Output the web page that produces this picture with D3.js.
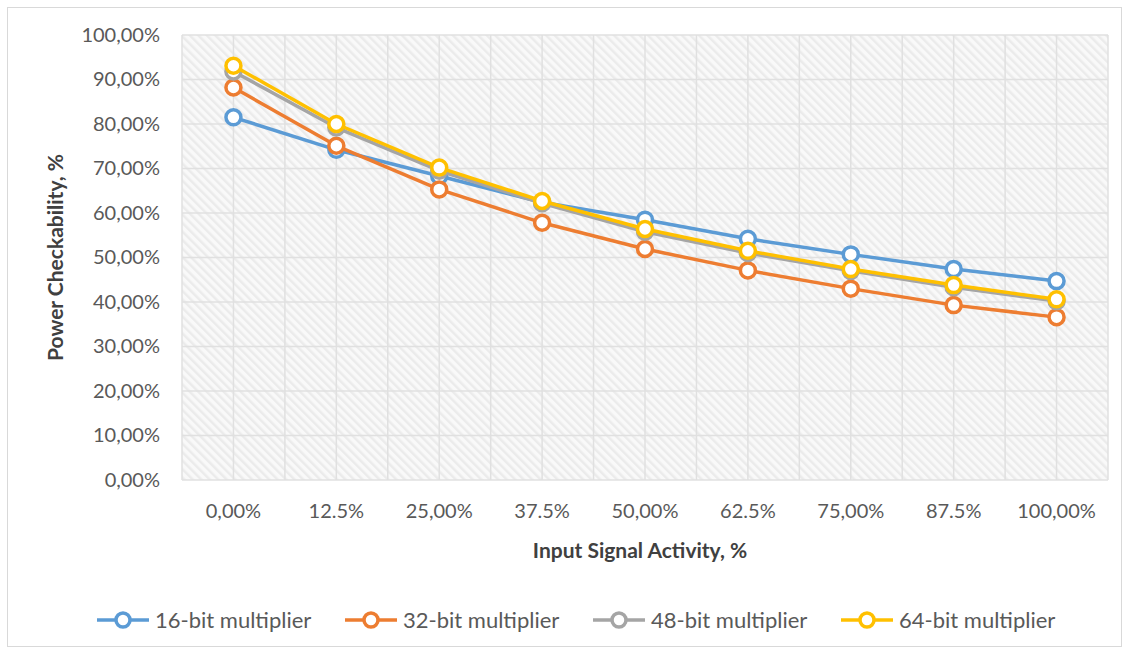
<!DOCTYPE html>
<html>
<head>
<meta charset="utf-8">
<script src="https://cdn.jsdelivr.net/npm/d3@7"></script>
<style>
  body { margin: 0; background: #fff; }
  svg { display: block; }
</style>
</head>
<body>
<div id="chart"></div>
<script>
var categories = ["0,00%", "12.5%", "25,00%", "37.5%", "50,00%", "62.5%", "75,00%", "87.5%", "100,00%"];
var seriesNames = ["16-bit multiplier", "32-bit multiplier", "48-bit multiplier", "64-bit multiplier"];
var s16 = [81.5, 74.2, 68.3, 62.4, 58.5, 54.2, 50.7, 47.4, 44.7];
var s32 = [88.2, 75.1, 65.3, 57.8, 51.9, 47.1, 43.0, 39.3, 36.6];
var s48 = [91.8, 79.2, 69.5, 62.2, 55.8, 51.0, 47.0, 43.3, 40.2];
var s64 = [93.1, 80.0, 70.2, 62.7, 56.4, 51.5, 47.4, 43.8, 40.6];
var yTicks = [0, 10, 20, 30, 40, 50, 60, 70, 80, 90, 100];
var colors = ["#5b9bd5", "#ed7d31", "#a5a5a5", "#ffc000"];

function init() {
    var w = 1129, h = 653;
    var left = 182, right = 1108, top = 35, bottom = 480;
    var font = "Lato, 'Open Sans', sans-serif";

    var svg = d3.select("#chart").append("svg")
        .attr("width", w)
        .attr("height", h);

    // outer border
    svg.append("rect")
        .attr("x", 7.5).attr("y", 7.5)
        .attr("width", w - 15).attr("height", h - 14)
        .attr("fill", "#fff")
        .attr("stroke", "#d9d9d9");

    // hatch pattern (light diagonal stripes)
    var defs = svg.append("defs");
    var pat = defs.append("pattern")
        .attr("id", "hatch")
        .attr("patternUnits", "userSpaceOnUse")
        .attr("width", 6).attr("height", 6)
        .attr("patternTransform", "rotate(-45)");
    pat.append("rect").attr("width", 6).attr("height", 6).attr("fill", "#f9f9f9");
    pat.append("rect").attr("width", 2.5).attr("height", 6).attr("fill", "#ebebeb");

    var xScale = d3.scaleBand()
        .domain(categories)
        .range([left, right]);

    var yScale = d3.scaleLinear()
        .domain([0, 100])
        .range([bottom, top]);

    svg.append("rect")
        .attr("x", left).attr("y", top)
        .attr("width", right - left).attr("height", bottom - top)
        .attr("fill", "url(#hatch)");

    // gridlines
    var grid = svg.append("g")
        .attr("stroke", "#e0e0e0")
        .attr("stroke-width", 1.5);

    grid.selectAll("line.h")
        .data(yTicks)
        .enter().append("line")
        .attr("x1", left).attr("x2", right)
        .attr("y1", d => yScale(d)).attr("y2", d => yScale(d));

    var vx = [];
    categories.forEach(function (c) {
        vx.push(xScale(c));
        vx.push(xScale(c) + xScale.bandwidth() / 2);
    });
    vx.push(right);
    grid.selectAll("line.v")
        .data(vx)
        .enter().append("line")
        .attr("x1", d => d).attr("x2", d => d)
        .attr("y1", top).attr("y2", bottom);

    // Axes
    var yAxis = d3.axisLeft(yScale)
        .tickValues(yTicks)
        .tickSize(0)
        .tickPadding(22)
        .tickFormat(d => d3.format(".2f")(d).replace(".", ",") + "%");

    svg.append("g")
        .attr("transform", `translate(${left},0)`)
        .call(yAxis)
        .call(g => g.select(".domain").remove())
        .selectAll("text")
        .attr("fill", "#595959")
        .attr("font-size", "20px")
        .attr("font-family", font);

    var xAxis = d3.axisBottom(xScale)
        .tickSize(0)
        .tickPadding(24);

    svg.append("g")
        .attr("transform", `translate(0,${bottom})`)
        .call(xAxis)
        .call(g => g.select(".domain").remove())
        .selectAll("text")
        .attr("fill", "#595959")
        .attr("font-size", "20px")
        .attr("font-family", font);

    // axis titles
    svg.append("text")
        .attr("transform", `translate(63,${(top + bottom) / 2})rotate(-90)`)
        .attr("text-anchor", "middle")
        .attr("font-family", font)
        .attr("font-weight", "bold")
        .attr("font-size", "21px")
        .attr("fill", "#404040")
        .text("Power Checkability, %");

    svg.append("text")
        .attr("x", (left + right) / 2 - 5)
        .attr("y", 558)
        .attr("text-anchor", "middle")
        .attr("font-family", font)
        .attr("font-weight", "bold")
        .attr("font-size", "21px")
        .attr("fill", "#404040")
        .text("Input Signal Activity, %");

    // lines
    var data = [s16, s32, s48, s64];
    var line = d3.line()
        .x((d, i) => xScale(categories[i]) + xScale.bandwidth() / 2)
        .y(d => yScale(d));

    data.forEach(function (vals, k) {
        var g = svg.append("g");
        g.append("path")
            .datum(vals)
            .attr("fill", "none")
            .attr("stroke", colors[k])
            .attr("stroke-width", 3.5)
            .attr("stroke-linejoin", "round")
            .attr("d", line);
        g.selectAll("circle")
            .data(vals)
            .enter().append("circle")
            .attr("cx", (d, i) => xScale(categories[i]) + xScale.bandwidth() / 2)
            .attr("cy", d => yScale(d))
            .attr("r", 7.5)
            .attr("fill", "#fff")
            .attr("stroke", colors[k])
            .attr("stroke-width", 3.5);
    });

    // legend
    var legendX = [97, 345, 593, 841];
    var ly = 620;
    seriesNames.forEach(function (name, k) {
        var g = svg.append("g").attr("transform", `translate(${legendX[k]},${ly})`);
        g.append("line")
            .attr("x1", 0).attr("x2", 52)
            .attr("stroke", colors[k]).attr("stroke-width", 3.5);
        g.append("circle")
            .attr("cx", 26).attr("r", 7)
            .attr("fill", "#fff")
            .attr("stroke", colors[k]).attr("stroke-width", 3.5);
        g.append("text")
            .attr("x", 58).attr("y", 8)
            .attr("font-family", font)
            .attr("font-size", "22px")
            .attr("fill", "#595959")
            .text(name);
    });
}

window.onload = init;
</script>
</body>
</html>
